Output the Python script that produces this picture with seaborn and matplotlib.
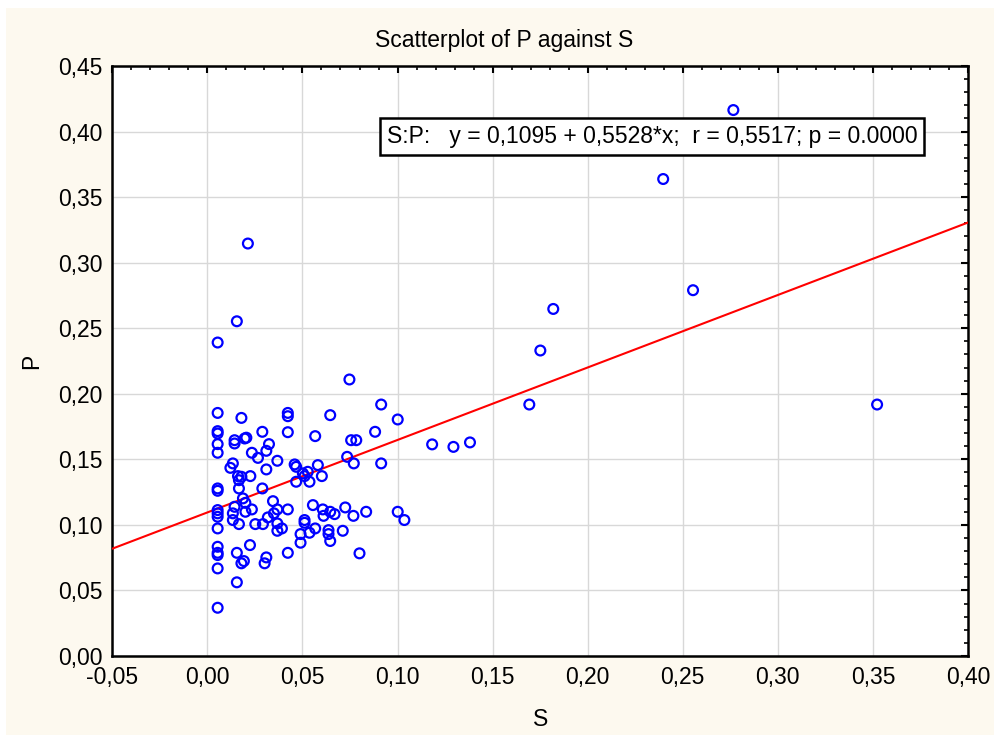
import numpy as np
import pandas as pd
import matplotlib
matplotlib.use("Agg")
import matplotlib.pyplot as plt
from matplotlib.ticker import MultipleLocator, FuncFormatter
from matplotlib.patches import Rectangle
import seaborn as sns

# Observations: S (x) and P (y)
s_values = [
    0.0054, 0.0179, 0.0423, 0.0423, 0.0054, 0.0054, 0.0289, 0.0423, 0.0054, 0.0143,
    0.0143, 0.0196, 0.0205, 0.0324, 0.0054, 0.0234, 0.0310, 0.0266, 0.0368, 0.0134,
    0.0121, 0.0459, 0.0467, 0.0310, 0.0161, 0.0179, 0.0166, 0.0226, 0.0467, 0.0502,
    0.0528, 0.0537, 0.0511, 0.0166, 0.0289, 0.0054, 0.0054, 0.0187, 0.0200, 0.0345,
    0.0054, 0.0054, 0.0054, 0.0143, 0.0134, 0.0200, 0.0234, 0.0368, 0.0423, 0.0350,
    0.0318, 0.0134, 0.0166, 0.0252, 0.0292, 0.0368, 0.0368, 0.0392, 0.0511, 0.0511,
    0.0054, 0.0490, 0.0537, 0.0490, 0.0224, 0.0054, 0.0054, 0.0054, 0.0155, 0.0423,
    0.0192, 0.0179, 0.0310, 0.0301, 0.0054, 0.0155, 0.0054,
    0.0747, 0.0914, 0.0646, 0.1001, 0.0567, 0.0882, 0.0756, 0.0783, 0.0735, 0.0770,
    0.0914, 0.0581, 0.0602, 0.0555, 0.0607, 0.0611, 0.0646, 0.0669, 0.0725, 0.0768,
    0.0835, 0.1001, 0.1036, 0.0567, 0.0637, 0.0637, 0.0646, 0.0712, 0.0800,
    0.0213, 0.0155, 0.0054, 0.2766, 0.2397, 0.1819, 0.2554, 0.1751, 0.1693, 0.3522,
    0.1182, 0.1294, 0.1381,
]
p_values = [
    0.1854, 0.1816, 0.1854, 0.1829, 0.1715, 0.1697, 0.1710, 0.1707, 0.1616, 0.1646,
    0.1621, 0.1659, 0.1665, 0.1616, 0.1550, 0.1550, 0.1565, 0.1511, 0.1489, 0.1469,
    0.1435, 0.1461, 0.1443, 0.1423, 0.1372, 0.1367, 0.1341, 0.1372, 0.1329, 0.1393,
    0.1405, 0.1329, 0.1372, 0.1278, 0.1278, 0.1278, 0.1260, 0.1202, 0.1168, 0.1181,
    0.1113, 0.1088, 0.1062, 0.1138, 0.1088, 0.1100, 0.1118, 0.1118, 0.1118, 0.1088,
    0.1057, 0.1037, 0.1006, 0.1006, 0.1006, 0.1011, 0.0955, 0.0973, 0.1037, 0.1016,
    0.0973, 0.0930, 0.0940, 0.0864, 0.0846, 0.0833, 0.0787, 0.0770, 0.0787, 0.0787,
    0.0724, 0.0707, 0.0752, 0.0707, 0.0668, 0.0562, 0.0368,
    0.2109, 0.1918, 0.1837, 0.1804, 0.1677, 0.1710, 0.1646, 0.1646, 0.1519, 0.1469,
    0.1469, 0.1456, 0.1372, 0.1151, 0.1118, 0.1069, 0.1100, 0.1082, 0.1133, 0.1069,
    0.1100, 0.1100, 0.1037, 0.0973, 0.0960, 0.0930, 0.0877, 0.0955, 0.0783,
    0.3146, 0.2553, 0.2391, 0.4164, 0.3638, 0.2647, 0.2790, 0.2330, 0.1918, 0.1918,
    0.1614, 0.1595, 0.1629,
]

# Fitted line reported in the annotation
intercept = 0.1095
slope = 0.5528
r_value = 0.5517
p_text = "0.0000"

x_ticks = [-0.05, 0.00, 0.05, 0.10, 0.15, 0.20, 0.25, 0.30, 0.35, 0.40]
y_ticks = [0.00, 0.05, 0.10, 0.15, 0.20, 0.25, 0.30, 0.35, 0.40, 0.45]

df = pd.DataFrame({"S": s_values, "P": p_values})

sns.set_theme(style="white")
plt.rcParams["font.family"] = ["Liberation Sans", "DejaVu Sans"]

FS = 16.5

fig = plt.figure(figsize=(9.94, 7.35), dpi=100, facecolor="white")
fig.patches.append(Rectangle((6 / 994, 0), 1, 1 - 8 / 735, transform=fig.transFigure,
                             facecolor="#FDF9EF", edgecolor="none", zorder=-10))
ax = fig.add_axes([112.3 / 994, 1 - 656 / 735, (968 - 112.3) / 994, (656 - 66) / 735])
ax.set_facecolor("white")

# regression line
line_x = np.array([x_ticks[0], x_ticks[-1]])
line_df = pd.DataFrame({"S": line_x, "P": intercept + slope * line_x})
sns.lineplot(data=line_df, x="S", y="P", ax=ax, color="#FF0000", linewidth=1.5, zorder=3)

sns.scatterplot(data=df, x="S", y="P", ax=ax, marker="o", s=50,
                facecolor="none", edgecolor="#0000FF", linewidth=1.6, zorder=4)

ax.set_xlim(x_ticks[0], x_ticks[-1])
ax.set_ylim(y_ticks[0], y_ticks[-1])
ax.xaxis.set_major_locator(MultipleLocator(0.05))
ax.yaxis.set_major_locator(MultipleLocator(0.05))
ax.xaxis.set_minor_locator(MultipleLocator(0.01))
ax.yaxis.set_minor_locator(MultipleLocator(0.01))
comma = FuncFormatter(lambda v, pos: f"{v:.2f}".replace(".", ",").replace("-0,00", "0,00"))
ax.xaxis.set_major_formatter(comma)
ax.yaxis.set_major_formatter(comma)

ax.grid(True, which="major", color="#D8D8D8", linewidth=1.0)
ax.set_axisbelow(True)
for sp in ax.spines.values():
    sp.set_color("black")
    sp.set_linewidth(1.8)
ax.tick_params(which="both", direction="in", top=True, right=True, color="black")
ax.tick_params(which="major", length=5, width=1.5, labelsize=FS, pad=7, labelcolor="black")
ax.tick_params(which="minor", length=3, width=1.2)

ax.set_xlabel("S", fontsize=FS, labelpad=14, color="black")
ax.set_ylabel("P", fontsize=FS, labelpad=11, color="black")
ax.set_title("Scatterplot of P against S", fontsize=FS, pad=14, color="black", x=0.4577)

label = (f"S:P:   y = {intercept:.4f} + {slope:.4f}*x;  r = {r_value:.4f}; p = {p_text}")
label = label.replace("0.1095", "0,1095").replace("0.5528", "0,5528").replace("0.5517", "0,5517")
ax.text(0.631, 0.8805, label, transform=ax.transAxes, ha="center", va="center",
        fontsize=FS, color="black", zorder=6,
        bbox=dict(boxstyle="square,pad=0.3", facecolor="white", edgecolor="black", linewidth=1.8))

fig.savefig("out.png", dpi=100, facecolor=fig.get_facecolor())
